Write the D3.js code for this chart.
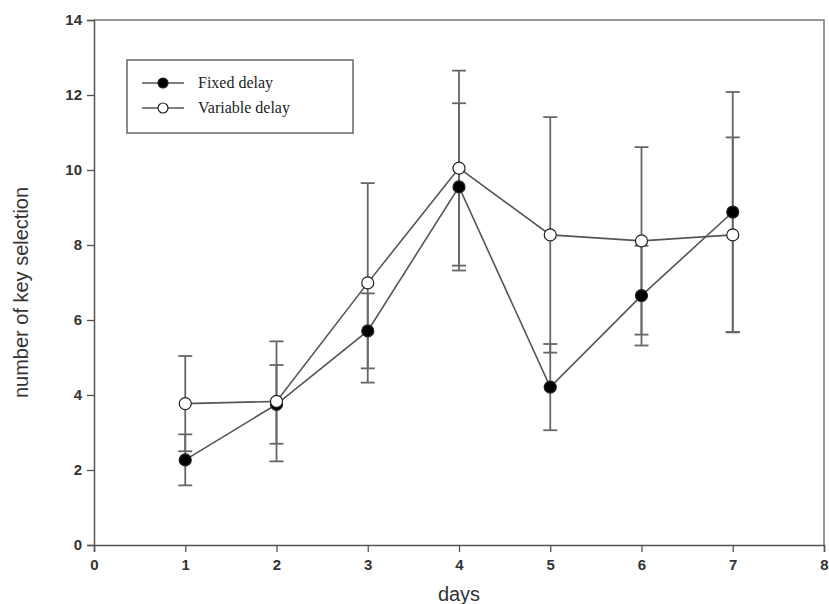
<!DOCTYPE html>
<html>
<head>
<meta charset="utf-8">
<script src="https://cdn.jsdelivr.net/npm/d3@7"></script>
<style>
  body { margin: 0; background: #fff; }
  svg { display: block; }
</style>
</head>
<body>
<svg class="chart"></svg>
<script>
// values
const days = [1, 2, 3, 4, 5, 6, 7];
const fixedMean = [2.27, 3.75, 5.71, 9.55, 4.21, 6.65, 8.88];
const fixedErr = [0.68, 1.05, 1.0, 2.23, 1.15, 1.33, 3.2];
const variableMean = [3.77, 3.83, 6.99, 10.05, 8.27, 8.11, 8.27];
const variableErr = [1.27, 1.6, 2.66, 2.6, 3.14, 2.5, 2.6];
const xTicks = [0, 1, 2, 3, 4, 5, 6, 7, 8];
const yTicks = [0, 2, 4, 6, 8, 10, 12, 14];
const seriesNames = ['Fixed delay', 'Variable delay'];

const W = 829, H = 604;
const plotLeft = 94, plotRight = 824, plotTop = 20, plotBottom = 545;
const lineColor = '#555';
const barColor = '#666';

const svg = d3.select('svg.chart').attr('width', W).attr('height', H);

const x = d3.scaleLinear().domain([0, 8]).range([plotLeft, plotRight]);
const y = d3.scaleLinear().domain([0, 14]).range([plotBottom, plotTop]);

// frame (top + right)
svg.append('path')
    .attr('d', `M${plotLeft},${plotTop}H${plotRight}V${plotBottom}`)
    .attr('fill', 'none')
    .attr('stroke', '#777')
    .attr('stroke-width', 1.5);

const xAxis = svg.append('g')
    .attr('transform', `translate(0,${plotBottom})`)
    .call(d3.axisBottom(x).tickValues(xTicks).tickSize(7).tickPadding(7).tickFormat(d3.format('d')));
const yAxis = svg.append('g')
    .attr('transform', `translate(${plotLeft},0)`)
    .call(d3.axisLeft(y).tickValues(yTicks).tickSize(7).tickPadding(5).tickFormat(d3.format('d')));

[xAxis, yAxis].forEach(g => {
    g.select('.domain').attr('stroke', '#555').attr('stroke-width', 1.5);
    g.selectAll('.tick line').attr('stroke', '#555').attr('stroke-width', 1.3);
    g.selectAll('.tick text')
        .attr('fill', '#333')
        .style('font-family', 'Liberation Sans, Arial, sans-serif')
        .style('font-size', '15px')
        .style('font-weight', 'bold');
});

svg.append('text')
    .attr('x', x(4))
    .attr('y', 601)
    .attr('text-anchor', 'middle')
    .attr('fill', '#333')
    .style('font-family', 'Liberation Sans, Arial, sans-serif')
    .style('font-size', '20px')
    .text('days');

svg.append('text')
    .attr('transform', `translate(28,${(plotTop + plotBottom) / 2 + 10}) rotate(-90)`)
    .attr('text-anchor', 'middle')
    .attr('fill', '#333')
    .style('font-family', 'Liberation Sans, Arial, sans-serif')
    .style('font-size', '20px')
    .text('number of key selection');

const series = [
    { name: seriesNames[0], mean: fixedMean, err: fixedErr, fill: '#000' },
    { name: seriesNames[1], mean: variableMean, err: variableErr, fill: '#fff' }
];

// error bars
series.forEach(s => {
    const g = svg.append('g').attr('stroke', barColor).attr('stroke-width', 1.8);
    days.forEach((d, i) => {
        const hi = y(s.mean[i] + s.err[i]);
        const lo = y(s.mean[i] - s.err[i]);
        g.append('line').attr('x1', x(d)).attr('x2', x(d)).attr('y1', hi).attr('y2', lo);
        g.append('line').attr('x1', x(d) - 7).attr('x2', x(d) + 7).attr('y1', hi).attr('y2', hi);
        g.append('line').attr('x1', x(d) - 7).attr('x2', x(d) + 7).attr('y1', lo).attr('y2', lo);
    });
});

const line = d3.line()
    .x((d, i) => x(days[i]))
    .y(d => y(d));

series.forEach(s => {
    svg.append('path')
        .datum(s.mean)
        .attr('d', line)
        .attr('fill', 'none')
        .attr('stroke', lineColor)
        .attr('stroke-width', 1.6);
});

series.forEach(s => {
    svg.append('g').selectAll('circle')
        .data(s.mean)
        .join('circle')
        .attr('cx', (d, i) => x(days[i]))
        .attr('cy', d => y(d))
        .attr('r', 6)
        .attr('fill', s.fill)
        .attr('stroke', '#222')
        .attr('stroke-width', 1.2);
});

// legend
const legend = svg.append('g');
legend.append('rect')
    .attr('x', 127).attr('y', 60)
    .attr('width', 226).attr('height', 73)
    .attr('fill', 'none')
    .attr('stroke', '#666')
    .attr('stroke-width', 1.5);

series.forEach((s, i) => {
    const ly = 83 + i * 25;
    legend.append('line')
        .attr('x1', 142).attr('x2', 184)
        .attr('y1', ly).attr('y2', ly)
        .attr('stroke', lineColor).attr('stroke-width', 1.6);
    legend.append('circle')
        .attr('cx', 163).attr('cy', ly).attr('r', 5)
        .attr('fill', s.fill).attr('stroke', '#222').attr('stroke-width', 1.2);
    legend.append('text')
        .attr('x', 198).attr('y', ly + 5)
        .attr('fill', '#222')
        .style('font-family', 'Liberation Serif, Times New Roman, serif')
        .style('font-size', '16px')
        .text(s.name);
});
</script>
</body>
</html>
